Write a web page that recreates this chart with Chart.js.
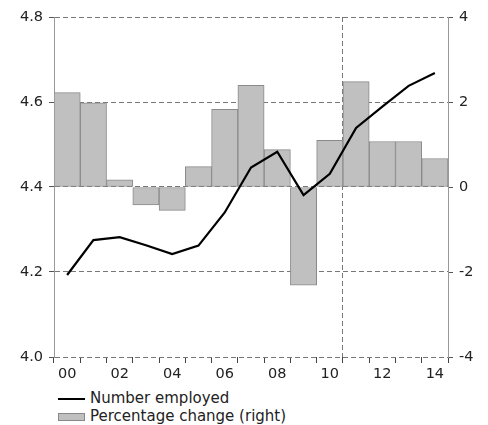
<!DOCTYPE html>
<html lang="en">
<head>
  <meta charset="UTF-8">
  <title>Number employed</title>
  <script src="https://cdn.jsdelivr.net/npm/chart.js"></script>
  <style>
    body { margin: 0; background: #fff; font-family: "DejaVu Sans", sans-serif; }
    #wrap { position: relative; width: 488px; height: 425px; }
    canvas { position: absolute; left: 0; top: 0; }
    .leg { position: absolute; left: 58px; font-size: 15px; color: #222; line-height: 17px; white-space: nowrap; }
    .leg span { display: inline-block; vertical-align: middle; margin-right: 5px; }
    .line-key { width: 27px; height: 0; border-top: 2.5px solid #000; }
    .box-key { width: 25px; height: 6px; background: #c0c0c0; border: 1px solid #888; }
  </style>
</head>
<body>
<div id="wrap">
  <canvas id="chart" width="488" height="385"></canvas>
  <div class="leg" style="top:390px"><span class="line-key"></span>Number employed</div>
  <div class="leg" style="top:408px"><span class="box-key"></span>Percentage change (right)</div>
</div>

<script>
const years = ['00','01','02','03','04','05','06','07','08','09','10','11','12','13','14'];
// millions, left axis
const employed = [4.193, 4.275, 4.282, 4.263, 4.242, 4.262, 4.34, 4.446, 4.483, 4.381, 4.431, 4.539, 4.589, 4.638, 4.668];
// per cent, right axis
const pctChange = [2.22, 1.98, 0.17, -0.42, -0.55, 0.48, 1.83, 2.39, 0.88, -2.31, 1.1, 2.48, 1.07, 1.07, 0.67];
const leftTicks = [4.0, 4.2, 4.4, 4.6, 4.8];
const rightTicks = [-4, -2, 0, 2, 4];

const gridGrey = '#777';
const tickFont = { family: 'DejaVu Sans', size: 14.5 };

new Chart(document.getElementById('chart'), {
  data: {
    labels: years,
    datasets: [
      {
        type: 'line',
        label: 'Number employed',
        data: employed,
        yAxisID: 'y',
        borderColor: '#000',
        borderWidth: 2.2,
        pointRadius: 0,
        tension: 0,
        order: 0
      },
      {
        type: 'bar',
        label: 'Percentage change (right)',
        data: pctChange,
        yAxisID: 'y2',
        backgroundColor: '#c0c0c0',
        borderColor: '#8a8a8a',
        borderWidth: 1,
        borderSkipped: false,
        barPercentage: 1,
        categoryPercentage: 1,
        order: 1
      }
    ]
  },
  options: {
    responsive: false,
    animation: false,
    layout: { padding: { top: 17 } },
    plugins: { legend: { display: false }, tooltip: { enabled: false } },
    scales: {
      x: {
        offset: true,
        border: { display: false, dash: [5, 3] },
        grid: {
          offset: true,
          // only the boundary between 10 and 11 gets a vertical line
          color: ctx => ctx.index === 11 ? gridGrey : 'rgba(0,0,0,0)',
          tickColor: '#444',
          tickBorderDash: [],
          tickLength: 6
        },
        ticks: {
          autoSkip: false,
          maxRotation: 0,
          padding: 3,
          color: '#222',
          font: tickFont,
          callback: (v, i) => i % 2 === 0 ? years[i] : ''
        },
        afterFit: s => { s.height = 28; }
      },
      y: {
        position: 'left',
        min: 4.0,
        max: 4.8,
        afterBuildTicks: s => { s.ticks = leftTicks.map(v => ({ value: v })); },
        border: { display: true, color: '#999', dash: [5, 3] },
        grid: {
          color: gridGrey,
          tickColor: '#555',
          tickBorderDash: [],
          tickLength: 5
        },
        ticks: {
          padding: 6,
          color: '#222',
          font: tickFont,
          callback: v => v.toFixed(1)
        },
        afterFit: s => { s.width = 54; }
      },
      y2: {
        position: 'right',
        min: -4,
        max: 4,
        afterBuildTicks: s => { s.ticks = rightTicks.map(v => ({ value: v })); },
        border: { display: true, color: '#999' },
        grid: {
          drawOnChartArea: false,
          tickColor: '#555',
          tickLength: 5
        },
        ticks: {
          padding: 6,
          color: '#222',
          font: tickFont
        },
        afterFit: s => { s.width = 40; }
      }
    }
  }
});
</script>
</body>
</html>
